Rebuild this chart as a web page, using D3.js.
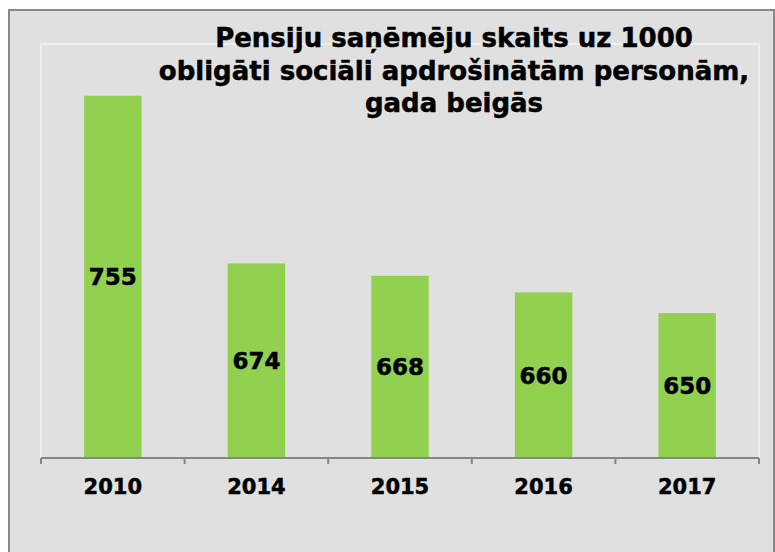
<!DOCTYPE html>
<html lang="lv">
  <head>
    <meta charset="UTF-8" />
    <title>Pensiju saņēmēju skaits</title>
    <script src="https://d3js.org/d3.v7.min.js"></script>
    <style>
      body {
        margin: 0;
        background: #fff;
      }
      svg {
        display: block;
        font-family: "DejaVu Sans", Verdana, sans-serif;
        font-weight: bold;
      }
      svg text {
        stroke: #000;
        stroke-width: 0.5px;
      }
    </style>
  </head>
  <body>
    <script>
      // data
      const years = ["2010", "2014", "2015", "2016", "2017"];
      const values = [755, 674, 668, 660, 650];
      const titleLines = [
        "Pensiju saņēmēju skaits uz 1000",
        "obligāti sociāli apdrošinātām personām,",
        "gada beigās",
      ];
      const yDomain = [580, 780];

      const width = 775,
        height = 552;
      const plot = { left: 41, right: 759, top: 44, bottom: 458 };

      const svg = d3
        .select("body")
        .append("svg")
        .attr("width", width)
        .attr("height", height);

      // chart frame
      svg
        .append("rect")
        .attr("x", 9)
        .attr("y", 10)
        .attr("width", 765)
        .attr("height", 560)
        .attr("fill", "#e0e0e0")
        .attr("stroke", "#888")
        .attr("stroke-width", 2);

      // plot area outline
      svg
        .append("rect")
        .attr("x", plot.left)
        .attr("y", plot.top)
        .attr("width", plot.right - plot.left)
        .attr("height", plot.bottom - plot.top)
        .attr("fill", "none")
        .attr("stroke", "#f4f4f4")
        .attr("stroke-width", 1.5);

      const x = d3
        .scaleBand()
        .domain(years)
        .range([plot.left, plot.right])
        .paddingInner(0.6)
        .paddingOuter(0.3);

      const y = d3.scaleLinear().domain(yDomain).range([plot.bottom, plot.top]);

      const data = years.map((yr, i) => ({ year: yr, value: values[i] }));

      // bars
      svg
        .selectAll(".bar")
        .data(data)
        .enter()
        .append("rect")
        .attr("class", "bar")
        .attr("x", (d) => x(d.year))
        .attr("y", (d) => y(d.value))
        .attr("width", x.bandwidth())
        .attr("height", (d) => y(yDomain[0]) - y(d.value))
        .attr("fill", "#92d050");

      // value labels in the middle of bars
      svg
        .selectAll(".val")
        .data(data)
        .enter()
        .append("text")
        .attr("class", "val")
        .attr("x", (d) => x(d.year) + x.bandwidth() / 2)
        .attr("y", (d) => (y(d.value) + y(yDomain[0])) / 2)
        .attr("dy", "0.37em")
        .attr("text-anchor", "middle")
        .attr("font-size", 23)
        .attr("fill", "#000")
        .text((d) => d.value);

      // x axis line + ticks at band edges
      const step = x.step();
      const edge0 = x(years[0]) - x.paddingOuter() * step;
      const axis = svg.append("g").attr("stroke", "#868686").attr("stroke-width", 2);
      axis
        .append("line")
        .attr("x1", plot.left)
        .attr("x2", plot.right)
        .attr("y1", plot.bottom)
        .attr("y2", plot.bottom);
      axis
        .selectAll(".tick")
        .data(d3.range(years.length + 1))
        .enter()
        .append("line")
        .attr("x1", (i) => edge0 + i * step)
        .attr("x2", (i) => edge0 + i * step)
        .attr("y1", plot.bottom)
        .attr("y2", plot.bottom + 6);

      // category labels
      svg
        .selectAll(".cat")
        .data(years)
        .enter()
        .append("text")
        .attr("class", "cat")
        .attr("x", (d) => x(d) + x.bandwidth() / 2)
        .attr("y", 494)
        .attr("text-anchor", "middle")
        .attr("font-size", 21)
        .attr("fill", "#000")
        .text((d) => d);

      // title
      svg
        .append("text")
        .attr("text-anchor", "middle")
        .attr("font-size", 26)
        .attr("fill", "#000")
        .selectAll("tspan")
        .data(titleLines)
        .enter()
        .append("tspan")
        .attr("x", 454)
        .attr("y", (d, i) => 47 + i * 32.5)
        .text((d) => d);
    </script>
  </body>
</html>
